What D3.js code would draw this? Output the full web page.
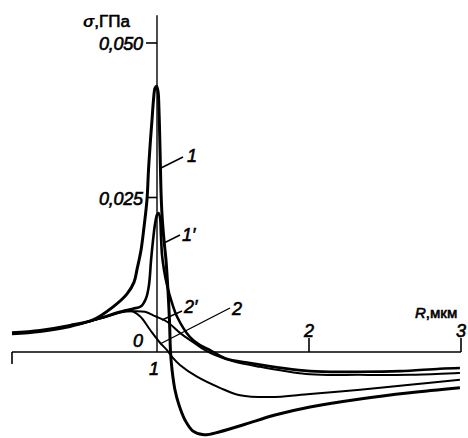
<!DOCTYPE html>
<html>
<head>
<meta charset="utf-8">
<script src="https://cdnjs.cloudflare.com/ajax/libs/d3/7.8.5/d3.min.js"></script>
<style>
  body { margin: 0; background: #fff; }
  text { font-family: "Liberation Sans", Arial, sans-serif; fill: #000; }
  .heavy { stroke: #000; stroke-width: 0.6px; }
</style>
</head>
<body>
<div class="chart"></div>
<script>

/** data: R in mkm, sigma in GPa */
const c1R = [0.046, 0.230, 0.428, 0.579, 0.711, 0.803, 0.849, 0.868, 0.895, 0.914, 0.934, 0.944, 0.957, 0.967, 0.977, 0.987, 0.997,
             1.007, 1.013, 1.020, 1.026, 1.033, 1.046, 1.059, 1.072, 1.082, 1.089, 1.099, 1.118, 1.145, 1.184, 1.237, 1.309,
             1.414, 1.579, 1.776, 2.007, 2.336, 2.664, 2.993];
const c1S = [0.0031, 0.0035, 0.0043, 0.0052, 0.0073, 0.0094, 0.0113, 0.0133, 0.0165, 0.0201, 0.0246, 0.0294, 0.0343, 0.0375, 0.0408, 0.0427, 0.0430,
             0.0421, 0.0392, 0.0327, 0.0262, 0.0222, 0.0181, 0.0149, 0.0100, 0.0052, 0.0000, -0.0029, -0.0061, -0.0086, -0.0110, -0.0128, -0.0134,
             -0.0129, -0.0117, -0.0102, -0.0089, -0.0076, -0.0066, -0.0058];

const c1pR = [0.046, 0.230, 0.428, 0.625, 0.757, 0.842, 0.895, 0.928, 0.947, 0.961, 0.974, 0.987, 1.000, 1.010,
              1.020, 1.026, 1.033, 1.046, 1.066, 1.099, 1.132, 1.217, 1.283, 1.349, 1.447, 1.612, 2.007, 2.336, 2.599, 2.862, 2.993];
const c1pS = [0.0029, 0.0033, 0.0041, 0.0055, 0.0065, 0.0070, 0.0074, 0.0087, 0.0108, 0.0149, 0.0181, 0.0207, 0.0222, 0.0225,
              0.0217, 0.0189, 0.0157, 0.0133, 0.0108, 0.0079, 0.0057, 0.0024, 0.0011, 0.0003, -0.0010, -0.0018, -0.0031, -0.0032, -0.0031, -0.0027, -0.0026];

const c2R = [0.046, 0.230, 0.428, 0.625, 0.757, 0.809, 0.888, 0.954, 1.020, 1.066, 1.099, 1.151, 1.263, 1.414, 1.546, 1.743, 2.007, 2.336, 2.664, 2.993];
const c2S = [0.0030, 0.0034, 0.0042, 0.0054, 0.0064, 0.0068, 0.0058, 0.0036, 0.0015, 0.0003, -0.0008, -0.0021, -0.0040, -0.0058, -0.0070, -0.0073, -0.0068, -0.0061, -0.0053, -0.0045];

const c2pR = [0.046, 0.230, 0.428, 0.625, 0.757, 0.855, 0.921, 0.987, 1.066, 1.151, 1.237, 1.316, 1.382, 1.513, 1.678, 2.007, 2.336, 2.664, 2.993];
const c2pS = [0.0030, 0.0034, 0.0042, 0.0054, 0.0064, 0.0066, 0.0065, 0.0058, 0.0049, 0.0031, 0.0016, 0.0003, -0.0005, -0.0016, -0.0024, -0.0036, -0.0037, -0.0037, -0.0034];

const xTicks = [2, 3];
const xTickLabels = ['2', '3'];
const yTicks = [0.025, 0.050];
const yTickLabels = ['0,025', '0,050'];

/** set up canvas */
let width = 468, height = 438;
let svg = d3.select('.chart').append('svg')
    .attr('width', width)
    .attr('height', height);

let x = d3.scaleLinear().domain([1, 3]).range([157, 461]);
let y = d3.scaleLinear().domain([0, 0.025]).range([352, 197.5]);

/** axes */
svg.append('line')
    .attr('x1', x(0.046)).attr('x2', x(3))
    .attr('y1', y(0)).attr('y2', y(0))
    .style('stroke', '#000').style('stroke-width', 1.6);
svg.append('line')
    .attr('x1', x(0.046)).attr('x2', x(0.046))
    .attr('y1', y(0)).attr('y2', y(0) + 12)
    .style('stroke', '#000').style('stroke-width', 1.6);
svg.append('line')
    .attr('x1', x(1)).attr('x2', x(1))
    .attr('y1', y(0)).attr('y2', y(0.0545))
    .style('stroke', '#000').style('stroke-width', 1.4);

svg.selectAll('.xtick')
    .data(xTicks)
    .enter().append('line')
    .attr('class', 'xtick')
    .attr('x1', d => x(d)).attr('x2', d => x(d))
    .attr('y1', y(0)).attr('y2', y(0) - 14)
    .style('stroke', '#000').style('stroke-width', 1.6);
svg.selectAll('.xlab')
    .data(xTicks)
    .enter().append('text')
    .attr('class', 'xlab heavy')
    .attr('x', d => x(d))
    .attr('y', y(0) - 15)
    .attr('text-anchor', 'middle')
    .style('font-size', '18px')
    .style('font-style', 'italic')
    .text((d, i) => xTickLabels[i]);

svg.selectAll('.ytick')
    .data(yTicks)
    .enter().append('line')
    .attr('class', 'ytick')
    .attr('x1', x(1) - 11).attr('x2', x(1))
    .attr('y1', d => y(d)).attr('y2', d => y(d))
    .style('stroke', '#000').style('stroke-width', 1.6);
svg.selectAll('.ylab')
    .data(yTicks)
    .enter().append('text')
    .attr('class', 'ylab heavy')
    .attr('x', x(1) - 14)
    .attr('y', d => y(d) + 7)
    .attr('text-anchor', 'end')
    .style('font-size', '18px')
    .style('font-style', 'italic')
    .attr('textLength', 44)
    .text((d, i) => yTickLabels[i]);

svg.append('text')
    .attr('class', 'heavy')
    .attr('x', 133).attr('y', 347)
    .style('font-size', '18px').style('font-style', 'italic')
    .text('0');
svg.append('text')
    .attr('class', 'heavy')
    .attr('x', 149).attr('y', 375)
    .style('font-size', '18px').style('font-style', 'italic')
    .text('1');

/** axis titles */
let yTitle = svg.append('text')
    .attr('x', 83).attr('y', 27)
    .style('font-size', '17px');
yTitle.append('tspan').style('font-style', 'italic').style('font-weight', 'bold').text('σ');
yTitle.append('tspan').attr('class', 'heavy').text(',ГПа');

let xTitle = svg.append('text')
    .attr('x', 415).attr('y', 318)
    .style('font-size', '15px');
xTitle.append('tspan').attr('class', 'heavy').style('font-style', 'italic').text('R');
xTitle.append('tspan').attr('class', 'heavy').text(',мкм');

/** curves */
let line = d3.line()
    .x(d => x(d[0]))
    .y(d => y(d[1]))
    .curve(d3.curveCatmullRom.alpha(0.5));

let curves = [
    {R: c2R, S: c2S, w: 2},
    {R: c2pR, S: c2pS, w: 2},
    {R: c1pR, S: c1pS, w: 2.6},
    {R: c1R, S: c1S, w: 3}
];

svg.selectAll('.curve')
    .data(curves)
    .enter().append('path')
    .attr('class', 'curve')
    .attr('d', d => line(d.R.map((r, i) => [r, d.S[i]])))
    .style('fill', 'none')
    .style('stroke', '#000')
    .style('stroke-width', d => d.w)
    .style('stroke-linejoin', 'round');

/** curve labels with leaders */
let labels = [
    {t: '1',  lx: 187, ly: 162, x1: 183, y1: 157, x2: 161, y2: 168},
    {t: '1′', lx: 182, ly: 241, x1: 180, y1: 235, x2: 164, y2: 243},
    {t: '2′', lx: 184, ly: 313, x1: 182, y1: 311, x2: 162, y2: 320},
    {t: '2',  lx: 232, ly: 315, x1: 230, y1: 308, x2: 160, y2: 344}
];
svg.selectAll('.leader')
    .data(labels)
    .enter().append('line')
    .attr('class', 'leader')
    .attr('x1', d => d.x1).attr('y1', d => d.y1)
    .attr('x2', d => d.x2).attr('y2', d => d.y2)
    .style('stroke', '#000').style('stroke-width', 1.4);
svg.selectAll('.clab')
    .data(labels)
    .enter().append('text')
    .attr('class', 'clab heavy')
    .attr('x', d => d.lx).attr('y', d => d.ly)
    .style('font-size', '18px').style('font-style', 'italic')
    .text(d => d.t);

</script>
</body>
</html>
